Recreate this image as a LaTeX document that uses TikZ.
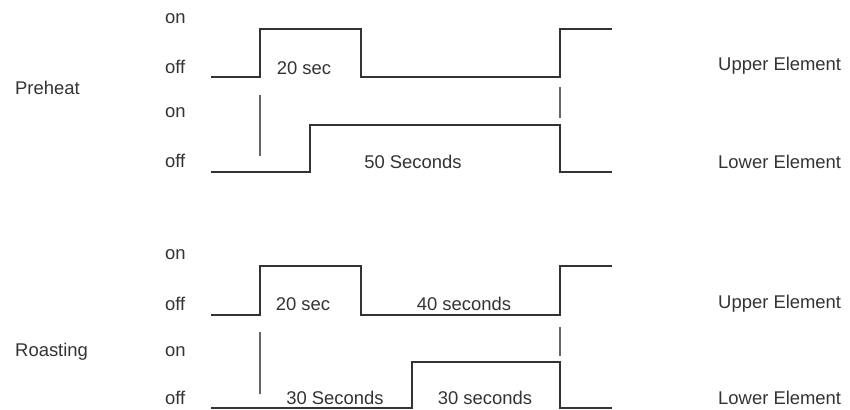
\documentclass[tikz,border=0pt]{standalone}
\usepackage{fontspec}
\setmainfont{Liberation Sans}
\usetikzlibrary{positioning, calc}

\tikzset{
  wave/.style={line width=1.6bp, black!80},
  tickline/.style={line width=1.2bp, black!60},
  lbl/.style={font=\fontsize{18.5}{20}\selectfont, text=black!80, inner sep=0pt},
}

\begin{document}
\begin{tikzpicture}[x=1bp,y=-1bp]
  \useasboundingbox (0,0) rectangle (850,409);

  % Preheat - upper element
  \draw[wave] (211,77) -- (260,77) -- (260,29) -- (361,29) -- (361,77)
    -- (560,77) -- (560,29) -- (612,29);
  % Preheat - lower element
  \draw[wave] (211,172) -- (310,172) -- (310,125) -- (560,125)
    -- (560,172) -- (612,172);

  % Preheat markers
  \draw[tickline] (260,95) -- (260,156);
  \draw[tickline] (560,87) -- (560,118);

  % Roasting - upper element
  \draw[wave] (211,315) -- (260,315) -- (260,266) -- (361,266) -- (361,315)
    -- (560,315) -- (560,266) -- (612,266);
  % Roasting - lower element
  \draw[wave] (211,408) -- (412,408) -- (412,362) -- (560,362)
    -- (560,408) -- (612,408);

  % Roasting markers
  \draw[tickline] (260,332) -- (260,394);
  \draw[tickline] (560,327) -- (560,356);

  % Level labels
  \node[lbl, anchor=west] (on1) at (165,19) {on};
  \node[lbl, anchor=west] (off1) at (165,67) {off};
  \node[lbl, anchor=west] (on2) at (165,113) {on};
  \node[lbl, anchor=west] (off2) at (165,161) {off};
  \node[lbl, anchor=west] (on3) at (165,255) {on};
  \node[lbl, anchor=west] (off3) at (165,304) {off};
  \node[lbl, anchor=west] (on4) at (165,352) {on};
  \node[lbl, anchor=west] (off4) at (165,398) {off};

  % Phase labels
  \node[lbl, anchor=west] (preheat) at (15,88) {Preheat};
  \node[lbl, anchor=west] (roasting) at (15,352) {Roasting};

  % Element labels
  \node[lbl, anchor=west] (pupper) at (718,66) {Upper Element};
  \node[lbl, anchor=west] (plower) at (718,162) {Lower Element};
  \node[lbl, anchor=west] (rupper) at (718,304) {Upper Element};
  \node[lbl, anchor=west] (rlower) at (718,398) {Lower Element};

  % Durations
  \node[lbl] (pdur1) at (304,68) {20 sec};
  \node[lbl] (pdur2) at (413,162) {50 Seconds};
  \node[lbl] (rdur1) at (303,304) {20 sec};
  \node[lbl] (rdur2) at (464,304) {40 seconds};
  \node[lbl] (rdur3) at (335,398) {30 Seconds};
  \node[lbl] (rdur4) at (485,398) {30 seconds};
\end{tikzpicture}
\end{document}
